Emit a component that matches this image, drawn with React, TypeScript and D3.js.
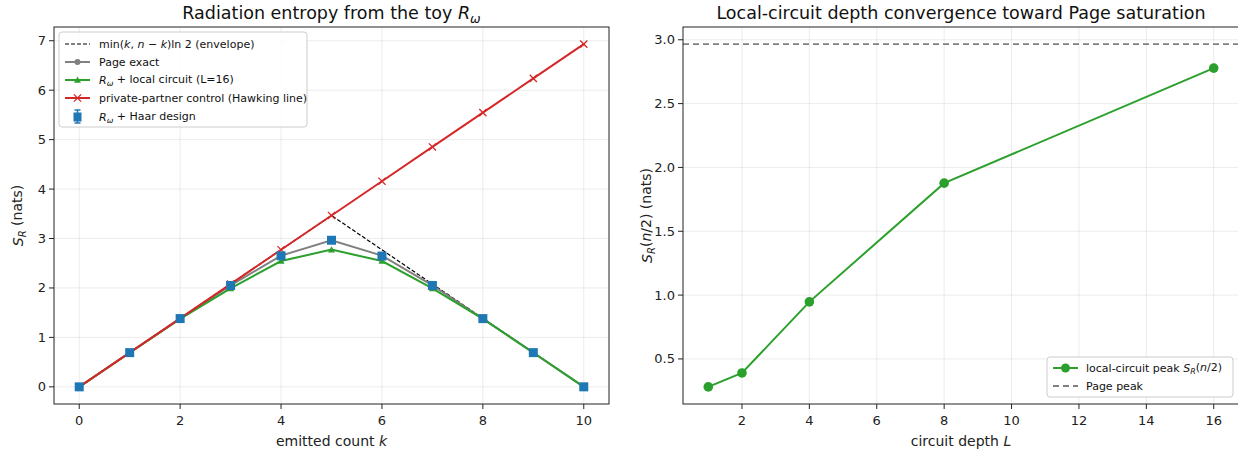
import React from "react";
import * as d3 from "d3";

// ---- data ----
const kValues = [0, 1, 2, 3, 4, 5, 6, 7, 8, 9, 10];
const envelope = [0, 0.693, 1.386, 2.079, 2.773, 3.466, 2.773, 2.079, 1.386, 0.693, 0];
const pageExact = [0, 0.692, 1.380, 2.052, 2.655, 2.966, 2.655, 2.052, 1.380, 0.692, 0];
const localL16 = [0, 0.69, 1.375, 1.99, 2.545, 2.775, 2.545, 1.99, 1.375, 0.69, 0];
const hawking = [0, 0.693, 1.386, 2.079, 2.773, 3.466, 4.159, 4.852, 5.545, 6.238, 6.931];
const haarMean = [0, 0.692, 1.381, 2.05, 2.65, 2.965, 2.645, 2.05, 1.38, 0.692, 0];
const haarErr = [0, 0.005, 0.01, 0.015, 0.02, 0.02, 0.02, 0.015, 0.01, 0.005, 0];

const depths = [1, 2, 4, 8, 16];
const peakEntropy = [0.281, 0.39, 0.947, 1.877, 2.778];
const pagePeak = 2.966;

const leftXTicks = [0, 2, 4, 6, 8, 10];
const leftYTicks = [0, 1, 2, 3, 4, 5, 6, 7];
const rightXTicks = [2, 4, 6, 8, 10, 12, 14, 16];
const rightYTicks = [0.5, 1.0, 1.5, 2.0, 2.5, 3.0];

const BLUE = "#1f77b4";
const GREEN = "#2ca02c";
const RED = "#d62728";
const GRAY = "#808080";
const FONT = "DejaVu Sans, sans-serif";

const W = 1238;
const H = 453;

const L = { left: 54, right: 609, top: 27, bottom: 404 };
const R = { left: 683, right: 1239, top: 27, bottom: 404 };

function Tri({ x, y, s, fill }: { x: number; y: number; s: number; fill: string }) {
  return <path d={`M${x},${y - s}L${x + s},${y + s * 0.8}L${x - s},${y + s * 0.8}Z`} fill={fill} />;
}

function Cross({ x, y, s, stroke }: { x: number; y: number; s: number; stroke: string }) {
  return (
    <path d={`M${x - s},${y - s}L${x + s},${y + s}M${x - s},${y + s}L${x + s},${y - s}`} stroke={stroke} strokeWidth={1.3} />
  );
}

function Ru() {
  return (
    <>
      <tspan fontStyle="italic">R</tspan>
      <tspan fontStyle="italic" fontSize="0.72em" dy="0.3em">ω</tspan>
      <tspan dy="-0.3em"> </tspan>
    </>
  );
}

export default function App() {
  const xL = d3.scaleLinear().domain([-0.5, 10.5]).range([L.left, L.right]);
  const yL = d3.scaleLinear().domain([-0.347, 7.278]).range([L.bottom, L.top]);
  const xR = d3.scaleLinear().domain([0.25, 16.75]).range([R.left, R.right]);
  const yR = d3.scaleLinear().domain([0.147, 3.1]).range([R.bottom, R.top]);

  const lineL = (vals: number[]) =>
    d3.line<number>().x((_, i) => xL(kValues[i])).y((d) => yL(d))(vals) || "";
  const lineR = d3.line<number>().x((_, i) => xR(depths[i])).y((d) => yR(d))(peakEntropy) || "";

  const grid = "#b0b0b0";
  const tickFs = 13;

  return (
    <svg width={W} height={H} style={{ position: "absolute", left: 0, top: 0, background: "#fff" }} fontFamily={FONT}>
      <rect width={W} height={H} fill="#fff" />

      {/* ---------- left panel ---------- */}
      <g>
        {leftXTicks.map((t) => (
          <line key={"gx" + t} x1={xL(t)} x2={xL(t)} y1={L.top} y2={L.bottom} stroke={grid} strokeOpacity={0.3} strokeWidth={0.8} />
        ))}
        {leftYTicks.map((t) => (
          <line key={"gy" + t} x1={L.left} x2={L.right} y1={yL(t)} y2={yL(t)} stroke={grid} strokeOpacity={0.3} strokeWidth={0.8} />
        ))}

        <path d={lineL(envelope)} fill="none" stroke="#000" strokeWidth={1.2} strokeDasharray="4,2" />
        <path d={lineL(pageExact)} fill="none" stroke={GRAY} strokeWidth={2} />
        {pageExact.map((v, i) => (
          <circle key={"pc" + i} cx={xL(kValues[i])} cy={yL(v)} r={3} fill={GRAY} />
        ))}
        <path d={lineL(localL16)} fill="none" stroke={GREEN} strokeWidth={2} />
        {localL16.map((v, i) => (
          <Tri key={"lt" + i} x={xL(kValues[i])} y={yL(v)} s={3.5} fill={GREEN} />
        ))}
        <path d={lineL(hawking)} fill="none" stroke={RED} strokeWidth={2} />
        {hawking.map((v, i) => (
          <Cross key={"hx" + i} x={xL(kValues[i])} y={yL(v)} s={3.6} stroke={RED} />
        ))}
        {haarMean.map((v, i) => (
          <g key={"hs" + i}>
            <line x1={xL(kValues[i])} x2={xL(kValues[i])} y1={yL(v - haarErr[i])} y2={yL(v + haarErr[i])} stroke={BLUE} strokeWidth={1.5} />
            <rect x={xL(kValues[i]) - 4.5} y={yL(v) - 4.5} width={9} height={9} fill={BLUE} />
          </g>
        ))}

        <rect x={L.left} y={L.top} width={L.right - L.left} height={L.bottom - L.top} fill="none" stroke="#222" strokeWidth={1} />

        {leftXTicks.map((t) => (
          <g key={"tx" + t}>
            <line x1={xL(t)} x2={xL(t)} y1={L.bottom} y2={L.bottom + 5} stroke="#222" />
            <text x={xL(t)} y={L.bottom + 21} textAnchor="middle" fontSize={tickFs} fill="#222">{t}</text>
          </g>
        ))}
        {leftYTicks.map((t) => (
          <g key={"ty" + t}>
            <line x1={L.left - 5} x2={L.left} y1={yL(t)} y2={yL(t)} stroke="#222" />
            <text x={L.left - 8} y={yL(t) + 4.5} textAnchor="end" fontSize={tickFs} fill="#222">{t}</text>
          </g>
        ))}

        <text x={(L.left + L.right) / 2} y={446} textAnchor="middle" fontSize={14} fill="#222">
          emitted count <tspan fontStyle="italic">k</tspan>
        </text>
        <text transform={`translate(23,${(L.top + L.bottom) / 2}) rotate(-90)`} textAnchor="middle" fontSize={14} fill="#222">
          <tspan fontStyle="italic">S</tspan>
          <tspan fontStyle="italic" fontSize="0.72em" dy="0.3em">R</tspan>
          <tspan dy="-0.3em"> (nats)</tspan>
        </text>
        <text x={(L.left + L.right) / 2} y={19} textAnchor="middle" fontSize={17.5} fill="#111">
          Radiation entropy from the toy <Ru />
        </text>

        {/* legend */}
        <g transform="translate(59,32)" fontSize={11} fill="#111">
          <rect x={0} y={0} width={248} height={95} rx={3} fill="#fff" fillOpacity={0.85} stroke="#ccc" />
          <line x1={6} x2={31} y1={12} y2={12} stroke="#000" strokeWidth={1.2} strokeDasharray="4,2" />
          <text x={40} y={16}>
            min(<tspan fontStyle="italic">k</tspan>, <tspan fontStyle="italic">n</tspan> − <tspan fontStyle="italic">k</tspan>)ln 2 (envelope)
          </text>
          <line x1={6} x2={31} y1={30} y2={30} stroke={GRAY} strokeWidth={2} />
          <circle cx={18.5} cy={30} r={3} fill={GRAY} />
          <text x={40} y={34}>Page exact</text>
          <line x1={6} x2={31} y1={48} y2={48} stroke={GREEN} strokeWidth={2} />
          <Tri x={18.5} y={48} s={3.5} fill={GREEN} />
          <text x={40} y={52}><Ru />+ local circuit (L=16)</text>
          <line x1={6} x2={31} y1={66} y2={66} stroke={RED} strokeWidth={2} />
          <Cross x={18.5} y={66} s={3.6} stroke={RED} />
          <text x={40} y={70}>private-partner control (Hawking line)</text>
          <line x1={18.5} x2={18.5} y1={78} y2={91} stroke={BLUE} strokeWidth={1.5} />
          <line x1={15.5} x2={21.5} y1={78} y2={78} stroke={BLUE} strokeWidth={1.5} />
          <line x1={15.5} x2={21.5} y1={91} y2={91} stroke={BLUE} strokeWidth={1.5} />
          <rect x={14.5} y={80.5} width={8} height={9} fill={BLUE} />
          <text x={40} y={89}><Ru />+ Haar design</text>
        </g>
      </g>

      {/* ---------- right panel ---------- */}
      <g>
        {rightXTicks.map((t) => (
          <line key={"rgx" + t} x1={xR(t)} x2={xR(t)} y1={R.top} y2={R.bottom} stroke={grid} strokeOpacity={0.3} strokeWidth={0.8} />
        ))}
        {rightYTicks.map((t) => (
          <line key={"rgy" + t} x1={R.left} x2={R.right} y1={yR(t)} y2={yR(t)} stroke={grid} strokeOpacity={0.3} strokeWidth={0.8} />
        ))}

        <line x1={R.left} x2={R.right} y1={yR(pagePeak)} y2={yR(pagePeak)} stroke={GRAY} strokeWidth={1.8} strokeDasharray="6,4" />
        <path d={lineR} fill="none" stroke={GREEN} strokeWidth={2} />
        {peakEntropy.map((v, i) => (
          <circle key={"rc" + i} cx={xR(depths[i])} cy={yR(v)} r={4.8} fill={GREEN} />
        ))}

        <rect x={R.left} y={R.top} width={R.right - R.left} height={R.bottom - R.top} fill="none" stroke="#222" strokeWidth={1} />

        {rightXTicks.map((t) => (
          <g key={"rtx" + t}>
            <line x1={xR(t)} x2={xR(t)} y1={R.bottom} y2={R.bottom + 5} stroke="#222" />
            <text x={xR(t)} y={R.bottom + 21} textAnchor="middle" fontSize={tickFs} fill="#222">{t}</text>
          </g>
        ))}
        {rightYTicks.map((t) => (
          <g key={"rty" + t}>
            <line x1={R.left - 5} x2={R.left} y1={yR(t)} y2={yR(t)} stroke="#222" />
            <text x={R.left - 8} y={yR(t) + 4.5} textAnchor="end" fontSize={tickFs} fill="#222">{t.toFixed(1)}</text>
          </g>
        ))}

        <text x={(R.left + R.right) / 2} y={446} textAnchor="middle" fontSize={14} fill="#222">
          circuit depth <tspan fontStyle="italic">L</tspan>
        </text>
        <text transform={`translate(652,${(R.top + R.bottom) / 2}) rotate(-90)`} textAnchor="middle" fontSize={14} fill="#222">
          <tspan fontStyle="italic">S</tspan>
          <tspan fontStyle="italic" fontSize="0.72em" dy="0.3em">R</tspan>
          <tspan dy="-0.3em">(</tspan><tspan fontStyle="italic">n</tspan>/2) (nats)
        </text>
        <text x={(R.left + R.right) / 2} y={19} textAnchor="middle" fontSize={17.5} fill="#111">
          Local-circuit depth convergence toward Page saturation
        </text>

        {/* legend */}
        <g transform="translate(1047,357)" fontSize={11} fill="#111">
          <rect x={0} y={0} width={186} height={40} rx={3} fill="#fff" fillOpacity={0.85} stroke="#ccc" />
          <line x1={6} x2={31} y1={11} y2={11} stroke={GREEN} strokeWidth={2} />
          <circle cx={18.5} cy={11} r={4.5} fill={GREEN} />
          <text x={39} y={15}>
            local-circuit peak <tspan fontStyle="italic">S</tspan>
            <tspan fontStyle="italic" fontSize="0.72em" dy="0.3em">R</tspan>
            <tspan dy="-0.3em">(</tspan><tspan fontStyle="italic">n</tspan>/2)
          </text>
          <line x1={6} x2={31} y1={29} y2={29} stroke={GRAY} strokeWidth={1.8} strokeDasharray="6,4" />
          <text x={39} y={33}>Page peak</text>
        </g>
      </g>
    </svg>
  );
}
